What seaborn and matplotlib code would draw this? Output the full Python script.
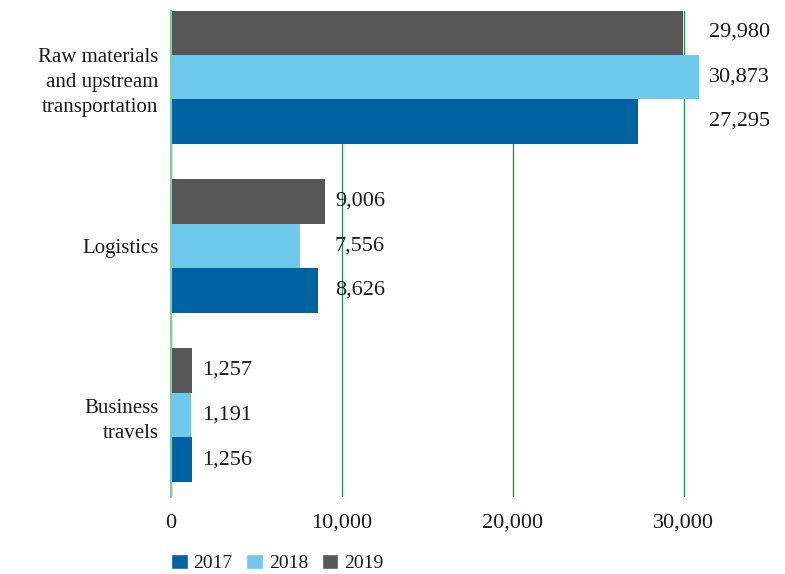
import pandas as pd
import seaborn as sns
import matplotlib.pyplot as plt
from matplotlib.patches import Patch

# dados
categorias = ['Raw materials\nand upstream\ntransportation', 'Logistics', 'Business\ntravels']
anos = ['2017', '2018', '2019']
v2017 = [27295, 8626, 1256]
v2018 = [30873, 7556, 1191]
v2019 = [29980, 9006, 1257]
cores = {'2017': '#0063a1', '2018': '#6ec9eb', '2019': '#575757'}
ticks_x = [0, 10000, 20000, 30000]

df = pd.DataFrame({
    'categoria': categorias * 3,
    'ano': ['2017'] * 3 + ['2018'] * 3 + ['2019'] * 3,
    'valor': v2017 + v2018 + v2019,
})

sns.set_style('white')
plt.rcParams['font.family'] = ['Liberation Serif', 'DejaVu Serif']
plt.rcParams['text.color'] = '#1a1a1a'

fig = plt.figure(figsize=(7.85, 5.74), dpi=100)
ax = fig.add_axes([0.2178, 0.1341, 0.7622, 0.8467])

# ordem de cima para baixo dentro de cada grupo: 2019, 2018, 2017
sns.barplot(data=df, y='categoria', x='valor', hue='ano', order=categorias,
            hue_order=['2019', '2018', '2017'], palette=cores, width=0.79,
            orient='y', legend=False, ax=ax, saturation=1, linewidth=0)

ax.set_xlim(0, 35000)
ax.set_ylim(2.485, -0.39)
ax.set_xticks(ticks_x)
ax.set_xticklabels([f'{t:,}' for t in ticks_x], fontsize=16, color='#1a1a1a')
ax.tick_params(axis='x', length=0, pad=12)
ax.tick_params(axis='y', length=0, pad=9, labelsize=15, labelcolor='#1a1a1a')
for lbl in ax.get_yticklabels():
    lbl.set_linespacing(1.45)
ax.set_xlabel('')
ax.set_ylabel('')

# linhas verticais verdes
ax.grid(axis='x', color='#2f8f5e', linewidth=1)
ax.grid(axis='y', visible=False)
ax.set_axisbelow(True)
for s in ['top', 'right', 'bottom']:
    ax.spines[s].set_visible(False)
ax.spines['left'].set_color('#8cc7a3')
ax.spines['left'].set_linewidth(1.5)

# rótulos alinhados ao maior valor do grupo
maximos = [max(a, b, c) for a, b, c in zip(v2017, v2018, v2019)]
for cont in ax.containers:
    for i, barra in enumerate(cont):
        yc = barra.get_y() + barra.get_height() / 2
        ax.annotate(f'{barra.get_width():,.0f}', (maximos[i], yc), xytext=(10, 0),
                    textcoords='offset pixels', ha='left', va='center', fontsize=16)

handles = [Patch(facecolor=cores[a], label=a) for a in anos]
fig.legend(handles=handles, loc='center left', bbox_to_anchor=(0.218, 0.019), ncol=3,
           frameon=False, fontsize=14, handlelength=0.85, handleheight=0.85,
           handletextpad=0.3, columnspacing=0.7, borderpad=0, borderaxespad=0)

fig.savefig('out.png', dpi=100)
